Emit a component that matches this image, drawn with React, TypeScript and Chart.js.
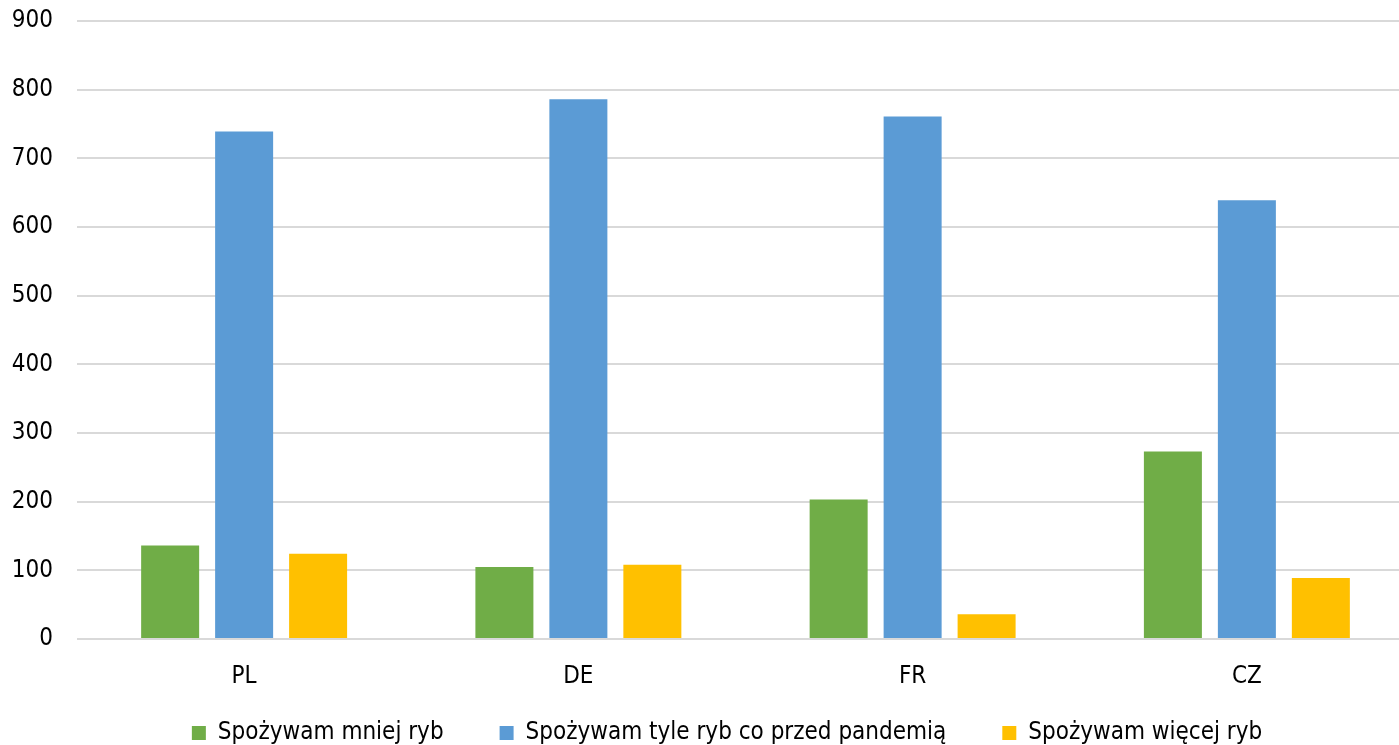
import React, { useEffect, useRef } from 'react';
import { Chart, registerables } from 'chart.js';

Chart.register(...registerables);

const categories = ['PL', 'DE', 'FR', 'CZ'];
const seriesNames = [
  'Spożywam mniej ryb',
  'Spożywam tyle ryb co przed pandemią',
  'Spożywam więcej ryb',
];
const lessFish = [136, 105, 203, 273];
const sameFish = [739, 786, 761, 639];
const moreFish = [124, 108, 36, 89];
const seriesColors = ['#70AD47', '#5B9BD5', '#FFC000'];
const yMin = 0;
const yMax = 900;
const yStep = 100;

const FONT = "'Liberation Sans Narrow', 'DejaVu Sans Condensed', 'Roboto', sans-serif";
const FS = 24;

const layoutTweaks = {
  id: 'layoutTweaks',
  afterLayout(chart: any) {
    const x = chart.scales.x;
    if (x) x.bottom = chart.height;
    const lg = chart.legend;
    if (lg) {
      lg.left += 20;
      lg.right += 20;
    }
  },
};

export default function App() {
  const ref = useRef<HTMLCanvasElement | null>(null);

  useEffect(() => {
    document.body.style.overflow = 'hidden';
    const canvas = ref.current;
    if (!canvas) return;
    const values = [lessFish, sameFish, moreFish];
    const chart = new Chart(canvas, {
      type: 'bar',
      data: {
        labels: categories,
        datasets: seriesNames.map((name, i) => ({
          label: name,
          data: values[i],
          backgroundColor: seriesColors[i],
          borderWidth: 0,
          categoryPercentage: 0.664,
          barPercentage: 0.784,
        })),
      },
      plugins: [layoutTweaks],
      options: {
        animation: false,
        responsive: true,
        maintainAspectRatio: false,
        layout: { padding: { top: 21, left: 0, right: 0, bottom: 0 } },
        font: { family: FONT },
        plugins: {
          tooltip: { enabled: false },
          legend: {
            position: 'bottom',
            labels: {
              boxWidth: 14,
              boxHeight: 14,
              padding: 56,
              color: '#000',
              font: { family: FONT, size: FS },
            },
          },
        },
        scales: {
          x: {
            grid: { display: false, drawTicks: false },
            border: { display: false },
            ticks: { color: '#000', padding: 23, font: { family: FONT, size: FS } },
            afterFit: (s: any) => {
              s.height = 26;
              s.paddingLeft = 0;
              s.paddingRight = 0;
              s.paddingTop = 0;
              s.paddingBottom = 0;
            },
          },
          y: {
            min: yMin,
            max: yMax,
            grid: { color: '#D9D9D9', lineWidth: 2, drawTicks: false },
            border: { display: false },
            ticks: { stepSize: yStep, color: '#000', padding: 24, font: { family: FONT, size: FS } },
            afterFit: (s: any) => {
              s.width = 77;
              s.paddingLeft = 0;
              s.paddingRight = 0;
              s.paddingTop = 0;
              s.paddingBottom = 0;
            },
          },
        },
      },
    });
    return () => chart.destroy();
  }, []);

  return (
    <div style={{ position: 'fixed', left: 0, top: 0, width: 1414, height: 755 }}>
      <canvas ref={ref} />
    </div>
  );
}
